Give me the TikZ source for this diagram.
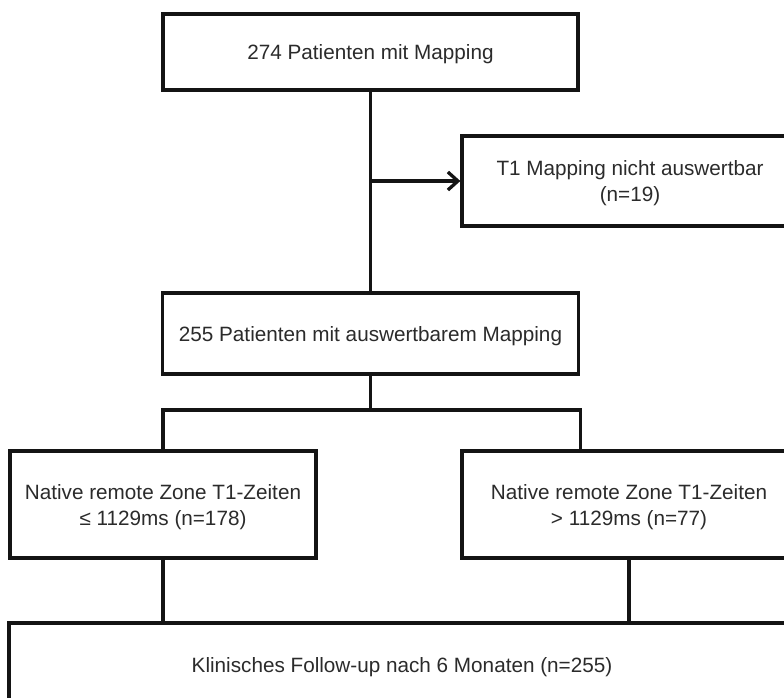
\documentclass[tikz,border=0pt]{standalone}
\usepackage{fontspec}
\setmainfont{Liberation Sans}
\usetikzlibrary{positioning,calc,arrows.meta}
\definecolor{ink}{HTML}{141414}
\definecolor{txt}{HTML}{2B2B2B}

\begin{document}
\begin{tikzpicture}[x=1pt, y=-1pt,
  flowbox/.style={draw=ink, line width=3.3pt, fill=white, inner sep=0pt, align=center,
    text depth=0pt, font=\fontsize{20.7}{26}\selectfont\color{txt}},
  link/.style={draw=ink, line width=3.3pt},
  linkarrow/.style={link, -{Straight Barb[length=10pt, width=18pt, line width=3.3pt]}}
]
  \useasboundingbox (0,0) rectangle (784,697);
  \clip (0,0) rectangle (784,697);

  \node[flowbox, minimum width=415pt, minimum height=76pt] (all)    at (370.5,52)  {274 Patienten mit Mapping};
  \node[flowbox, minimum width=336pt, minimum height=90pt] (excl)   at (630,181)   {T1 Mapping nicht auswertbar\\(n=19)};
  \node[flowbox, minimum width=416pt, minimum height=81pt] (valid)  at (370.5,333.5) {255 Patienten mit auswertbarem Mapping};
  \node[flowbox, minimum width=306pt, minimum height=107pt] (low)   at (163,504.5) {Native remote Zone T1-Zeiten\\≤ 1129ms (n=178)};
  \node[flowbox, minimum width=334pt, minimum height=107pt] (high)  at (629,504.5) {Native remote Zone T1-Zeiten\\> 1129ms (n=77)};
  \node[flowbox, minimum width=786pt, minimum height=84pt] (follow) at (402,665)   {Klinisches Follow-up nach 6 Monaten (n=255)};

  \coordinate (fork) at (370.5,410);

  \draw[link] (all.south) -- (valid.north);
  \draw[linkarrow] (all.south |- excl.west) -- (excl.west);
  \draw[link] (valid.south) -- (fork);
  \draw[link] (low.north) |- (valid.east |- fork) -- (valid.east |- high.north);
  \draw[link] (low.south) -- (low.south |- follow.north);
  \draw[link] (high.south) -- (high.south |- follow.north);
\end{tikzpicture}
\end{document}
